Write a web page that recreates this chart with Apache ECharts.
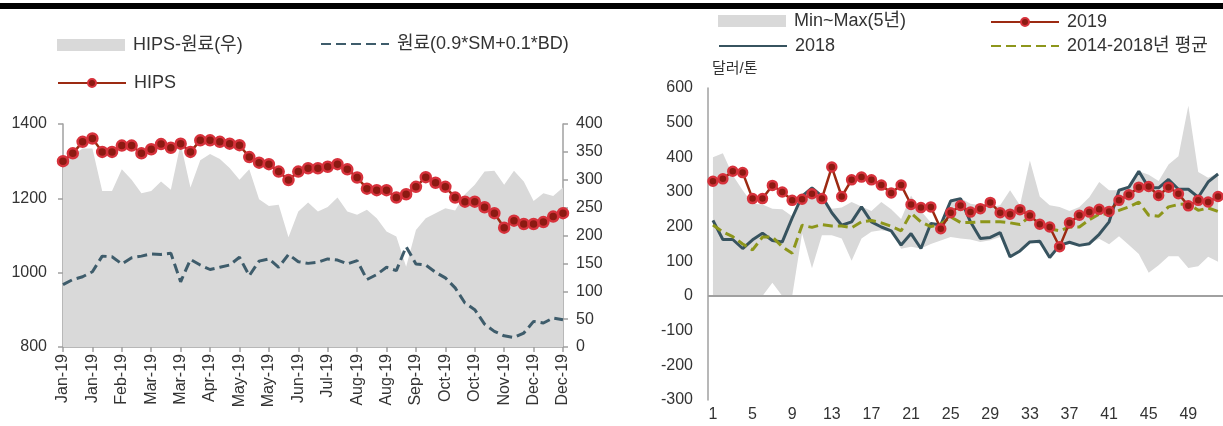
<!DOCTYPE html>
<html>
<head>
<meta charset="utf-8">
<script src="https://cdn.jsdelivr.net/npm/echarts@6/dist/echarts.min.js"></script>
<style>
html,body{margin:0;padding:0;background:#fff;}
#c{width:1223px;height:426px;}
</style>
</head>
<body>
<div id="c"></div>
<script>
// ---------- Left chart data ----------
const weekCats = [
 'Jan-19','Jan-19','Jan-19','Jan-19','Feb-19','Feb-19','Feb-19','Feb-19',
 'Mar-19','Mar-19','Mar-19','Mar-19','Mar-19','Apr-19','Apr-19','Apr-19','Apr-19',
 'May-19','May-19','May-19','May-19','May-19','Jun-19','Jun-19','Jun-19','Jun-19',
 'Jul-19','Jul-19','Jul-19','Jul-19','Aug-19','Aug-19','Aug-19','Aug-19','Aug-19',
 'Sep-19','Sep-19','Sep-19','Sep-19','Oct-19','Oct-19','Oct-19','Oct-19',
 'Nov-19','Nov-19','Nov-19','Nov-19','Nov-19','Dec-19','Dec-19','Dec-19','Dec-19'
];
const hips = [1300,1321,1352,1361,1325,1325,1342,1342,1321,1332,1346,1336,1347,1325,1356,1356,1352,1347,1343,1311,1296,1292,1272,1249,
 1272,1281,1281,1285,1292,1278,1256,1226,1222,1222,1202,1211,1231,1257,1242,1231,1202,1191,1191,1176,1160,1121,1140,1131,1131,1136,1151,1160];
const spread = [335,344,356,356,280,280,319,300,276,280,297,282,365,286,335,346,337,321,300,319,265,253,255,197,
 243,259,243,251,268,243,237,246,231,207,198,144,210,231,240,249,245,274,291,315,316,291,316,297,262,276,271,286];
const rawMat = [112,121,126,135,163,162,149,160,163,167,166,168,117,157,147,139,143,147,161,128,154,158,143,166,
 153,150,152,158,156,149,155,121,130,143,137,180,149,147,134,124,106,79,67,41,28,20,17,25,46,43,52,49];

// ---------- Right chart data ----------
const weeks = Array.from({length:52},(_,i)=>String(i+1));
const y2019 = [331,338,360,356,281,281,319,300,276,279,295,281,372,287,335,343,335,320,297,320,264,255,257,194,
 240,261,242,252,270,240,236,249,232,207,199,142,211,233,242,250,244,276,292,314,316,290,314,295,260,276,271,287];
const y2018 = [218,163,163,137,162,181,160,156,225,288,312,288,240,204,214,257,214,199,188,147,180,137,209,205,
 274,281,214,166,169,183,113,130,156,158,111,146,155,146,151,178,214,305,314,360,312,312,336,308,308,285,329,352];
const avg5 = [205,185,171,150,133,170,170,142,123,204,198,206,202,202,197,214,218,211,201,188,239,214,200,208,
 228,212,212,214,214,214,211,206,230,207,194,188,199,199,220,236,238,247,257,271,233,230,257,264,266,247,254,244];
const bandMax = [400,412,348,305,266,264,252,250,230,292,315,292,252,255,271,258,245,271,250,222,290,245,212,210,
 280,283,266,262,257,262,305,262,391,287,262,257,245,257,285,329,305,305,314,360,350,332,379,403,549,358,341,354];
const bandMin = [0,0,0,0,0,0,38,0,0,180,80,175,175,166,102,166,185,190,185,136,142,137,150,160,
 170,166,163,156,161,170,113,130,156,150,111,140,150,146,151,165,149,172,147,121,67,89,115,115,81,86,113,99];
const bandRange = bandMax.map((v,i)=>v-bandMin[i]);

const FONT = "'Liberation Sans', 'Noto Sans CJK KR', sans-serif";
const TXT = '#333';
const AX = '#a0a0a0';
const RED_LINE = '#9c2a12';
const RED_DOT = '#8c1a12';
const RED_RING = '#d7323c';
const BLUE = '#3e5c6b';
const DARK = '#37535f';
const OLIVE = '#8d961b';
const GREY = '#d9d9d9';
const DASH = [10,5];

// kind: 'rect' | 'line' (no marker) | 'marker'
function lg(name, left, top, kind){
  const d = {name:name};
  let ih = 14;
  if (kind === 'rect') { d.icon = 'rect'; ih = 12; }
  if (kind === 'line') { d.itemStyle = {opacity:0}; }
  if (kind === 'marker') { ih = 10; }
  return {
    left:left, top:top, padding:0, itemWidth:68, itemHeight: ih,
    data:[d], selectedMode:false,
    textStyle:{fontSize:18, color:TXT, fontFamily:FONT, padding:[0,0,0,3]}
  };
}
const plain = v => String(v);

const chart = echarts.init(document.getElementById('c'), null, {renderer:'canvas'});
chart.setOption({
  animation:false,
  textStyle:{fontFamily:FONT},
  graphic:[
    {type:'rect', shape:{x:0,y:3,width:1223,height:6}, style:{fill:'#000'}},
    {type:'text', left:712, top:61, style:{text:'달러/톤', fontSize:15, fill:TXT, fontFamily:FONT}}
  ],
  legend:[
    lg('HIPS-원료(우)',57,36,'rect'),
    lg('원료(0.9*SM+0.1*BD)',320,35,'line'),
    lg('HIPS',57,74,'marker'),
    lg('Min~Max(5년)',718,12,'rect'),
    lg('2019',990,13,'marker'),
    lg('2018',718,37,'line'),
    lg('2014-2018년 평균',990,37,'line')
  ],
  grid:[
    {left:63, top:124, width:500, height:223},
    {left:708, top:88, width:515, height:312}
  ],
  xAxis:[
    {gridIndex:0, type:'category', data:weekCats, boundaryGap:false,
     axisLine:{lineStyle:{color:AX,width:1.5}},
     axisTick:{interval:2, length:5, lineStyle:{color:AX,width:1.5}},
     axisLabel:{interval:2, rotate:90, fontSize:16, color:TXT, margin:7, fontFamily:FONT}},
    {gridIndex:1, type:'category', data:weeks, boundaryGap:true,
     axisLine:{show:false, onZero:false},
     axisTick:{show:false},
     axisLabel:{interval:3, fontSize:16, color:TXT, margin:7, fontFamily:FONT}}
  ],
  yAxis:[
    {gridIndex:0, type:'value', min:800, max:1400, interval:200,
     axisLine:{show:true, lineStyle:{color:AX,width:1.5}},
     axisTick:{show:true, length:5, lineStyle:{color:AX,width:1.5}},
     splitLine:{show:false},
     axisLabel:{fontSize:16, color:TXT, margin:16, fontFamily:FONT, formatter:plain}},
    {gridIndex:0, type:'value', position:'right', min:0, max:400, interval:50,
     axisLine:{show:true, lineStyle:{color:AX,width:1.5}},
     axisTick:{show:true, length:5, lineStyle:{color:AX,width:1.5}},
     splitLine:{show:false},
     axisLabel:{fontSize:16, color:TXT, margin:13, fontFamily:FONT, formatter:plain}},
    {gridIndex:1, type:'value', min:-300, max:600, interval:100,
     axisLine:{show:true, lineStyle:{color:AX,width:1.5}},
     axisTick:{show:false},
     splitLine:{show:false},
     axisLabel:{fontSize:16, color:TXT, margin:15, fontFamily:FONT, formatter:plain}}
  ],
  series:[
    {name:'HIPS-원료(우)', type:'line', xAxisIndex:0, yAxisIndex:1, data:spread,
     symbol:'none', lineStyle:{width:0, color:GREY}, itemStyle:{color:GREY},
     areaStyle:{color:GREY, opacity:1}, z:1},
    {name:'원료(0.9*SM+0.1*BD)', type:'line', xAxisIndex:0, yAxisIndex:1, data:rawMat,
     symbol:'none', lineStyle:{width:3, color:BLUE, type:DASH}, itemStyle:{color:BLUE}, z:3},
    {name:'HIPS', type:'line', xAxisIndex:0, yAxisIndex:0, data:hips,
     symbol:'circle', symbolSize:10, showAllSymbol:true,
     lineStyle:{width:2.5, color:RED_LINE},
     itemStyle:{color:RED_DOT, borderColor:RED_RING, borderWidth:2.5}, z:4},

    {name:'bandBase', type:'line', xAxisIndex:1, yAxisIndex:2, data:bandMin, stack:'band',
     symbol:'none', lineStyle:{width:0, opacity:0}, silent:true, z:1},
    {name:'Min~Max(5년)', type:'line', xAxisIndex:1, yAxisIndex:2, data:bandRange, stack:'band',
     symbol:'none', lineStyle:{width:0, color:GREY}, itemStyle:{color:GREY},
     areaStyle:{color:GREY, opacity:1}, z:1},
    {name:'2018', type:'line', xAxisIndex:1, yAxisIndex:2, data:y2018,
     symbol:'none', lineStyle:{width:3, color:DARK}, itemStyle:{color:DARK}, z:3,
     markLine:{silent:true, symbol:'none', label:{show:false},
       lineStyle:{color:AX, width:2, type:'solid'}, data:[{yAxis:0}]}},
    {name:'2014-2018년 평균', type:'line', xAxisIndex:1, yAxisIndex:2, data:avg5,
     symbol:'none', lineStyle:{width:3, color:OLIVE, type:DASH}, itemStyle:{color:OLIVE}, z:3},
    {name:'2019', type:'line', xAxisIndex:1, yAxisIndex:2, data:y2019,
     symbol:'circle', symbolSize:9, showAllSymbol:true,
     lineStyle:{width:2.5, color:RED_LINE},
     itemStyle:{color:RED_DOT, borderColor:RED_RING, borderWidth:2.5}, z:4}
  ]
});
</script>
</body>
</html>
